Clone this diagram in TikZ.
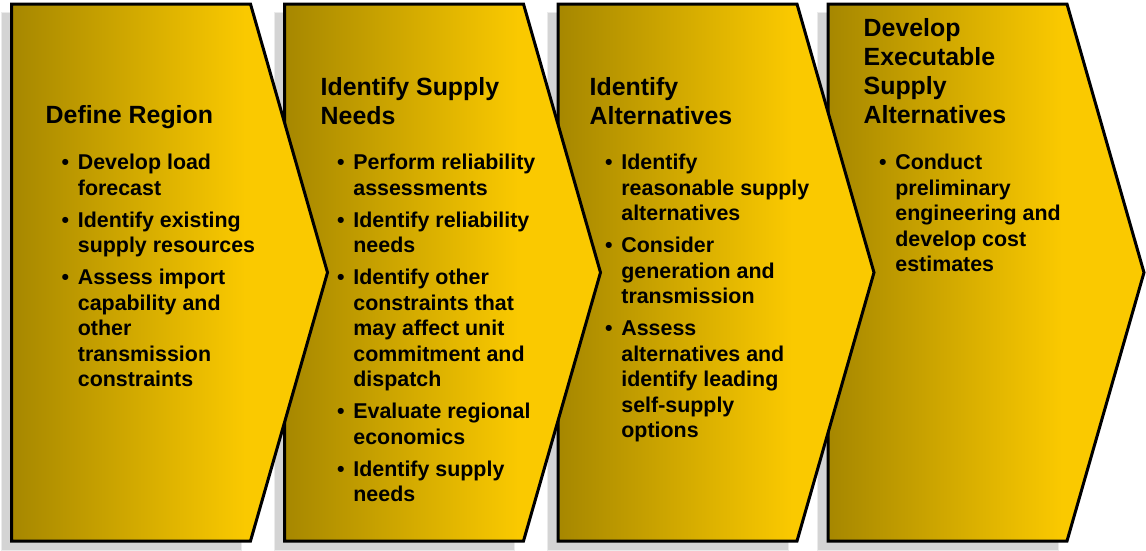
\documentclass[tikz,border=0pt]{standalone}
\usepackage{fontspec}
\setmainfont{Liberation Sans}
\definecolor{golddark}{RGB}{166, 135, 0}
\definecolor{goldlight}{RGB}{250, 201, 0}
\definecolor{shadowgray}{RGB}{212, 212, 212}
\usepackage{tikz}
\pgfdeclarehorizontalshading{goldfade}{100bp}{color(0bp)=(golddark); color(25bp)=(golddark); color(62bp)=(goldlight); color(100bp)=(goldlight)}

\begin{document}
\begin{tikzpicture}[x=1pt, y=-1pt,
  shadowbox/.style={fill=shadowgray, draw=black!8, line width=0.8pt},
  stagebox/.style={draw=black, line width=3pt, shading=goldfade},
  stagetitle/.style={anchor=north west, inner sep=0pt, align=left, font=\fontsize{24.9}{29}\selectfont\bfseries},
  stagelist/.style={anchor=north west, inner sep=0pt, font=\fontsize{21.4}{25.5}\selectfont\bfseries}]
  \useasboundingbox (0,0) rectangle (1146,550);

  % Shadows behind the four stages
  \draw[shadowbox] (1,12) rectangle (241.5,550);
  \draw[shadowbox] (274,12) rectangle (514.5,550);
  \draw[shadowbox] (547.5,12) rectangle (788,550);
  \draw[shadowbox] (817.5,12) rectangle (1058,550);

  % Stages, right to left so each tip lies over the next one
  \draw[stagebox] (828,4) -- (1067,4) -- (1144,272.5) -- (1067,541) -- (828,541) -- cycle;
  \draw[stagebox] (558,4) -- (797,4) -- (874,272.5) -- (797,541) -- (558,541) -- cycle;
  \draw[stagebox] (284.5,4) -- (523.5,4) -- (600.5,272.5) -- (523.5,541) -- (284.5,541) -- cycle;
  \draw[stagebox] (11.5,4) -- (250.5,4) -- (327.5,272.5) -- (250.5,541) -- (11.5,541) -- cycle;

  % Define region
  \node[stagetitle] (region-title) at (45.5,105.5) {Define Region};
  \node[stagelist] (region-list) at (61.5,151.5) {%
    \begin{tabular}{@{}l@{\hspace{8.7pt}}l@{}}
      \textbullet & Develop load\\
                  & forecast\\[6.5pt]
      \textbullet & Identify existing\\
                  & supply resources\\[6.5pt]
      \textbullet & Assess import\\
                  & capability and\\
                  & other\\
                  & transmission\\
                  & constraints
    \end{tabular}};

  % Identify supply needs
  \node[stagetitle] (needs-title) at (320.5,77.5) {Identify Supply\\Needs};
  \node[stagelist] (needs-list) at (337,151.5) {%
    \begin{tabular}{@{}l@{\hspace{8.7pt}}l@{}}
      \textbullet & Perform reliability\\
                  & assessments\\[6.5pt]
      \textbullet & Identify reliability\\
                  & needs\\[6.5pt]
      \textbullet & Identify other\\
                  & constraints that\\
                  & may affect unit\\
                  & commitment and\\
                  & dispatch\\[6.5pt]
      \textbullet & Evaluate regional\\
                  & economics\\[6.5pt]
      \textbullet & Identify supply\\
                  & needs
    \end{tabular}};

  % Identify alternatives
  \node[stagetitle] (alt-title) at (589.5,77.5) {Identify\\Alternatives};
  \node[stagelist] (alt-list) at (605,151.5) {%
    \begin{tabular}{@{}l@{\hspace{8.7pt}}l@{}}
      \textbullet & Identify\\
                  & reasonable supply\\
                  & alternatives\\[6.5pt]
      \textbullet & Consider\\
                  & generation and\\
                  & transmission\\[6.5pt]
      \textbullet & Assess\\
                  & alternatives and\\
                  & identify leading\\
                  & self-supply\\
                  & options
    \end{tabular}};

  % Develop executable alternatives
  \node[stagetitle] (exec-title) at (863.5,18.5) {Develop\\Executable\\Supply\\Alternatives};
  \node[stagelist] (exec-list) at (879,151.5) {%
    \begin{tabular}{@{}l@{\hspace{8.7pt}}l@{}}
      \textbullet & Conduct\\
                  & preliminary\\
                  & engineering and\\
                  & develop cost\\
                  & estimates
    \end{tabular}};
\end{tikzpicture}
\end{document}
